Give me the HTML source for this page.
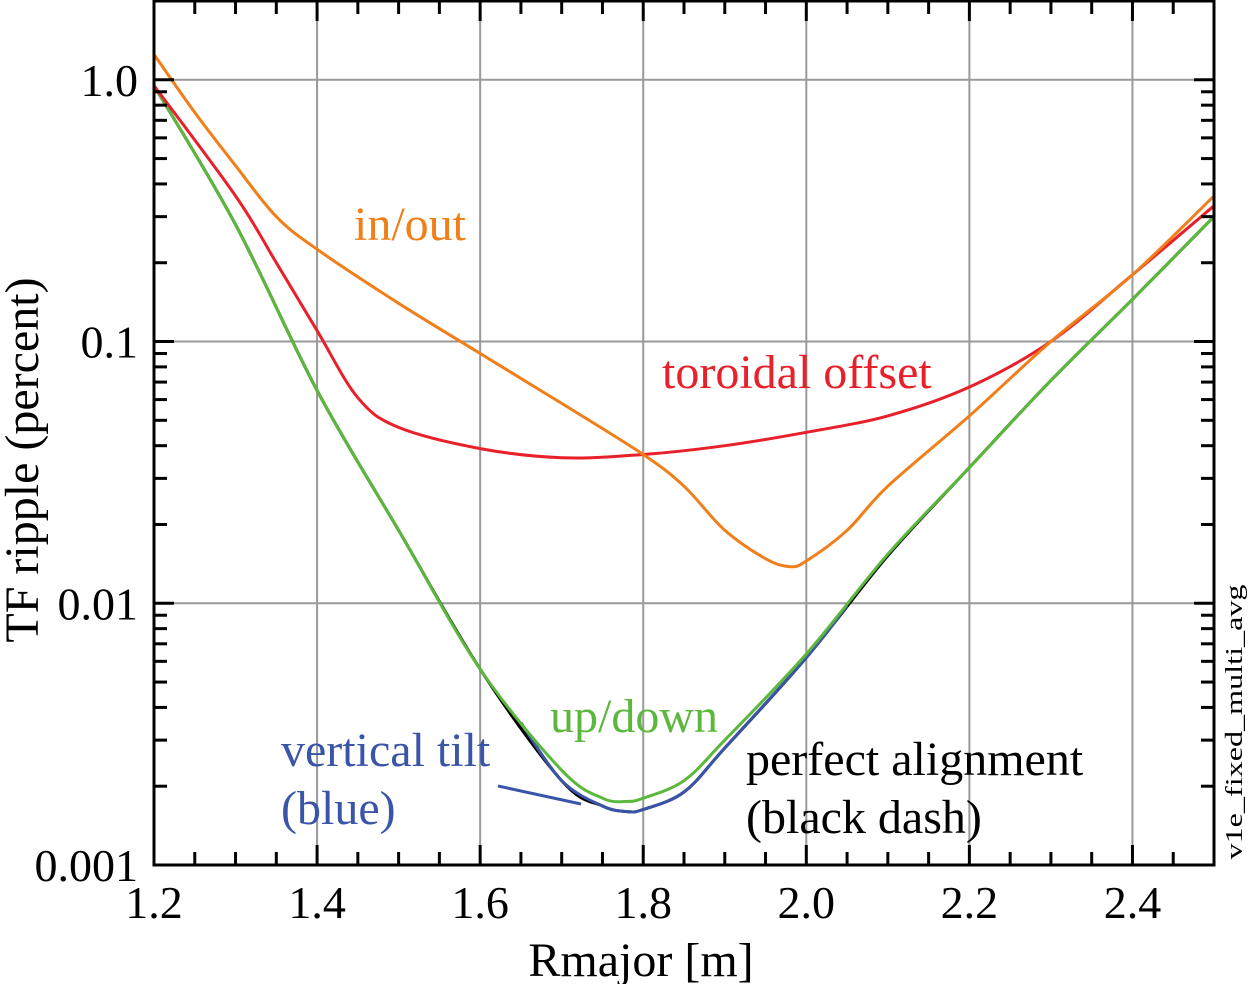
<!DOCTYPE html>
<html><head><meta charset="utf-8"><style>
body{margin:0;background:#fff;}
svg{display:block;font-family:"Liberation Serif",serif;}
</style></head><body>
<svg id="chart" width="1250" height="984" viewBox="0 0 1250 984" xmlns="http://www.w3.org/2000/svg">
<g id="grid"></g>
<g id="series"></g>
<g id="axes"></g>
<text x="38" y="460" font-size="48" text-anchor="middle" transform="rotate(-90 38 460)">TF ripple (percent)</text>
<text x="641" y="976" font-size="48" text-anchor="middle">Rmajor [m]</text>
<text x="1242" y="722" font-size="24" text-anchor="middle" textLength="275" lengthAdjust="spacingAndGlyphs" transform="rotate(-90 1242 722)">v1e_fixed_multi_avg</text>
<text x="354" y="240" font-size="48" fill="#f07f1a">in/out</text>
<text x="662" y="388" font-size="48" fill="#e8202a">toroidal offset</text>
<text x="550" y="732" font-size="48" fill="#5cb83c">up/down</text>
<text x="281" y="766" font-size="48" fill="#3a55a8">vertical tilt</text>
<text x="281" y="824" font-size="48" fill="#3a55a8">(blue)</text>
<line x1="498" y1="786" x2="581" y2="804" stroke="#3a55a8" stroke-width="3"/>
<text x="746" y="775" font-size="48" fill="#000">perfect alignment</text>
<text x="746" y="833" font-size="48" fill="#000">(black dash)</text>
</svg>
<script>
const xTicks=[1.2,1.4,1.6,1.8,2.0,2.2,2.4];
const xTickLabels=["1.2","1.4","1.6","1.8","2.0","2.2","2.4"];
const yTicks=[1,0.1,0.01,0.001];
const yTickLabels=["1.0","0.1","0.01","0.001"];
const inoutX=[1.2,1.25,1.3,1.35,1.4,1.5,1.6,1.7,1.8,1.85,1.9,1.95,1.98,2.0,2.05,2.1,2.2,2.3,2.4,2.5];
const inoutY=[1.25,0.75,0.47,0.3,0.225,0.14,0.09,0.058,0.037,0.028,0.019,0.0148,0.0138,0.0145,0.019,0.028,0.052,0.1,0.18,0.36];
const torX=[1.2,1.3,1.35,1.4,1.45,1.5,1.6,1.7,1.8,1.9,2.0,2.1,2.2,2.3,2.4,2.5];
const torY=[0.95,0.36,0.2,0.11,0.061,0.047,0.039,0.036,0.037,0.04,0.045,0.052,0.067,0.1,0.18,0.33];
const upX=[1.2,1.3,1.4,1.5,1.6,1.7,1.75,1.78,1.8,1.85,1.9,2.0,2.1,2.2,2.3,2.4,2.5];
const upY=[0.95,0.28,0.065,0.019,0.0056,0.0023,0.0018,0.00175,0.0018,0.0021,0.003,0.0064,0.0154,0.033,0.071,0.145,0.3];
const perfX=[1.2,1.3,1.4,1.5,1.6,1.7,1.75,1.78,1.8,1.85,1.9,2.0,2.1,2.2,2.3,2.4,2.5];
const perfY=[0.95,0.28,0.065,0.019,0.0056,0.0021,0.00168,0.0016,0.00163,0.0019,0.0028,0.0062,0.0152,0.033,0.071,0.145,0.3];
const tiltX=[1.65,1.7,1.75,1.78,1.8,1.85,1.9,2.0,2.05];
const tiltY=[0.0035,0.0021,0.00168,0.0016,0.00163,0.0019,0.0028,0.0062,0.0098];
const X0=154,X1=1214,Y0=1,Y1=865,XMIN=1.2,XMAX=2.5;
const xs=v=>X0+(v-XMIN)/(XMAX-XMIN)*(X1-X0);
const ys=v=>Y1-(Math.log10(v)+3)/(Math.log10(2)+3)*(Y1-Y0);
const NS="http://www.w3.org/2000/svg";
function mk(t,a,p){const e=document.createElementNS(NS,t);for(const k in a)e.setAttribute(k,a[k]);p.appendChild(e);return e;}
const grid=document.getElementById('grid'),ser=document.getElementById('series'),ax=document.getElementById('axes');
xTicks.slice(1).forEach(v=>{const l=mk('line',{x1:xs(v),x2:xs(v),y1:Y0,y2:Y1,stroke:'#999','stroke-width':2},grid);

});
yTicks.slice(0,3).forEach(v=>{const l=mk('line',{x1:X0,x2:X1,y1:ys(v),y2:ys(v),stroke:'#999','stroke-width':2},grid);

});
function line(xa,ya,color,name){const P=xa.map((x,i)=>[xs(x),ys(ya[i])]);
let d='M'+P[0][0].toFixed(1)+','+P[0][1].toFixed(1);
for(let i=0;i<P.length-1;i++){const p0=P[Math.max(i-1,0)],p1=P[i],p2=P[i+1],p3=P[Math.min(i+2,P.length-1)];
const c1=[p1[0]+(p2[0]-p0[0])/6,p1[1]+(p2[1]-p0[1])/6],c2=[p2[0]-(p3[0]-p1[0])/6,p2[1]-(p3[1]-p1[1])/6];
d+=`C${c1[0].toFixed(1)},${c1[1].toFixed(1)} ${c2[0].toFixed(1)},${c2[1].toFixed(1)} ${p2[0].toFixed(1)},${p2[1].toFixed(1)}`;}
const e=mk('path',{d:d,fill:'none',stroke:color,'stroke-width':3,'stroke-linejoin':'round'},ser);

}
line(perfX,perfY,'#000','line-perfect-alignment');
line(tiltX,tiltY,'#3a55a8','line-vertical-tilt');
line(upX,upY,'#5cb83c','line-up-down');
line(torX,torY,'#e8202a','line-toroidal-offset');
line(inoutX,inoutY,'#f07f1a','line-in-out');
const fr=mk('path',{d:`M${X0},${Y0}H${X1}V${Y1}H${X0}Z`,fill:'none',stroke:'#000','stroke-width':3},ax);


for(let v=1.25;v<2.5;v+=0.05){const major=Math.abs((v-1.2)/0.2-Math.round((v-1.2)/0.2))<0.01;const L=major?20:13;
[[Y1,Y1-L],[Y0,Y0+L]].forEach(([a,b])=>{const t=mk('line',{x1:xs(v),x2:xs(v),y1:a,y2:b,stroke:'#000','stroke-width':3},ax);

});}
for(let d=-3;d<=0;d++)for(let m=1;m<=9;m++){const v=m*Math.pow(10,d);if(ys(v)<Y0)continue;const L=m==1?20:13;
[[X0,X0+L],[X1,X1-L]].forEach(([a,b])=>{const t=mk('line',{x1:a,x2:b,y1:ys(v),y2:ys(v),stroke:'#000','stroke-width':3},ax);

});}
xTicks.forEach((v,i)=>{const t=mk('text',{x:xs(v),y:918,'font-size':46,'text-anchor':'middle'},ax);t.textContent=xTickLabels[i];

});
yTicks.forEach((v,i)=>{const t=mk('text',{x:138,y:ys(v)+16,'font-size':46,'text-anchor':'end'},ax);t.textContent=yTickLabels[i];

});
</script>
</body></html>
